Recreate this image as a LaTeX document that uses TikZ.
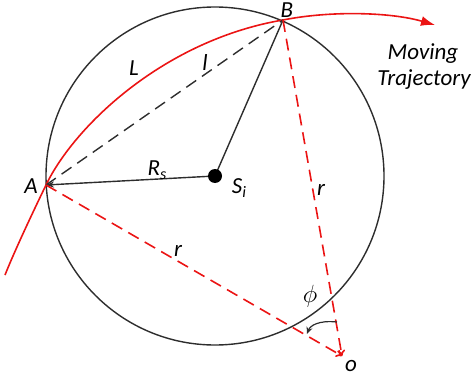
\documentclass[tikz,border=0pt]{standalone}
\usepackage{fontspec}
\setmainfont{Carlito}
\usetikzlibrary{arrows.meta}
\definecolor{dk}{RGB}{45,45,45}
\definecolor{rd}{RGB}{235,20,20}
\newcommand{\subtx}[1]{\raisebox{-4.5pt}{\fontsize{16}{16}\selectfont\itshape #1}}
\begin{document}
\begin{tikzpicture}[x=1pt,y=-1pt,
  lbl/.style={font=\fontsize{23}{25}\selectfont\itshape, inner sep=0pt},
  blk/.style={draw=dk, line width=1.4pt},
  rdash/.style={draw=rd, line width=1.6pt, dash pattern=on 12pt off 7pt},
  kdash/.style={draw=dk, line width=1.4pt, dash pattern=on 12pt off 7pt}]
\useasboundingbox (0,0) rectangle (471,377);
\coordinate (S) at (215,176);
\coordinate (A) at (46,185);
\coordinate (B) at (283,20);
\coordinate (O) at (342,356);
% circle
\draw[blk] (S) circle[radius=169];
% trajectory
\draw[rd, line width=1.6pt, -{Latex[length=14pt,width=10pt]}]
  (5,275) .. controls (15,250) and (32,214) .. (A)
  .. controls (75,125) and (165,40) .. (B)
  .. controls (330,10.6) and (390,12) .. (435,25);
% chord l
\draw[kdash] (A) -- (B);
% radii
\draw[blk, -{Stealth[length=8pt,width=6pt]}] (S) -- (A);
\draw[blk] (S) -- (B);
% red dashed r
\draw[rdash, -{To[length=6pt,width=8pt]}] (A) -- (O);
\draw[rdash, -{To[length=6pt,width=8pt]}] (B) -- (O);
% center dot
\fill[black] (S) circle[radius=7];
% angle arrow
\draw[dk, line width=1.2pt, -{Stealth[length=7pt,width=6pt]}] (337,322) .. controls (318,320) and (310,326) .. (307,334);
% labels
\node[lbl] (lA) at (31,186) {A};
\node[lbl] (lB) at (287,10.5) {B};
\node[lbl] (lL) at (134,68) {L};
\node[lbl] (ll) at (205,63) {l};
\node[lbl] (lR) at (157,170) {R\subtx{s}};
\node[lbl] (lS) at (239,188) {S\subtx{i}};
\node[lbl] (lr1) at (321,190) {r};
\node[lbl] (lr2) at (178,251) {r};
\node[lbl] (lphi) at (310,296) {\fontsize{26}{26}\selectfont$\phi$};
\node[lbl] (lo) at (351,366) {o};
\node[lbl] (lM) at (423,54) {Moving};
\node[lbl] (lT) at (424,80) {Trajectory};
\end{tikzpicture}
\end{document}
